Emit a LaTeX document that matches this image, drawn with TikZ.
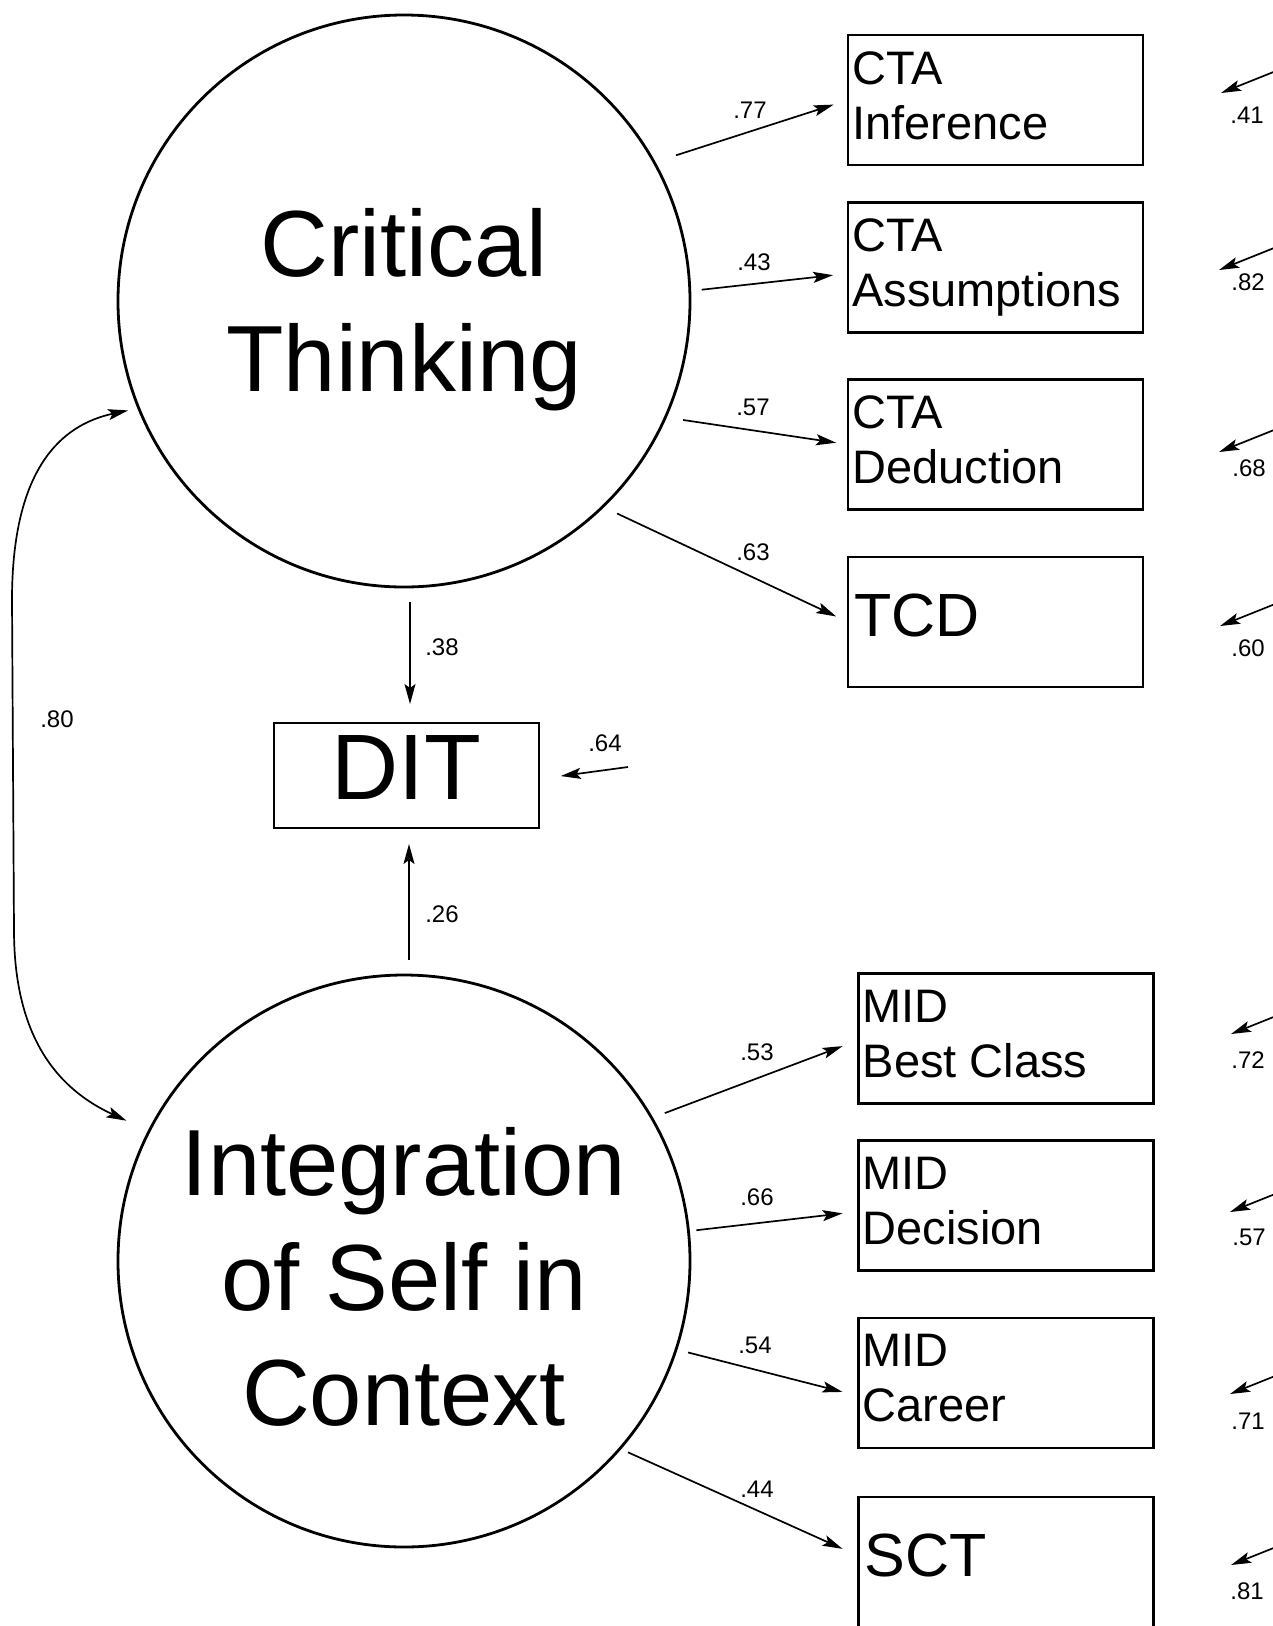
\documentclass[tikz,border=0pt]{standalone}
\usepackage{fontspec}
\setmainfont{Liberation Sans}
\usetikzlibrary{arrows.meta}
\newcommand{\sizeL}{\fontsize{61}{70}\selectfont}
\newcommand{\ind}[3]{\node[indic] (#1) at (#2) {};
 	\node[indtext] (#1txt) at ([shift={(4,16)}]#1.north west) {#3}}
\newcommand{\load}[4]{\draw[effect, shorten <=#3pt, shorten >=#4pt] (#1) -- (#2)}
\newcommand{\coef}[3]{\node[coef] (#1) at (#2) {#3}}
\newcommand{\err}[4]{\coordinate (#1) at (#2);
 	\draw[effect] (#1) --++ (-60,24);
 	\node[coef] (#1lab) at (#3) {#4}}
\tikzset{
	latent/.style = {circle, draw, line width=2.8pt, minimum size=572pt, inner sep=0pt, outer sep=0pt},
	bigtext/.style = {align=center, inner sep=0pt, anchor=north, font=\fontsize{94}{115}\selectfont},
	indic/.style = {draw, line width=2.8pt, minimum width=295pt, minimum height=130pt, inner sep=0pt, outer sep=0pt},
	indtext/.style = {align=left, inner sep=0pt, anchor=north west, font=\fontsize{47}{55}\selectfont},
	effect/.style = {line width=1.7pt, ->},
	coef/.style = {inner sep=0pt, font=\fontsize{24}{28}\selectfont}
}

\begin{document}
\begin{tikzpicture}[x=1pt, y=-1pt, >={Stealth[length=20pt, width=11pt, inset=4pt]}]
\useasboundingbox (0,0) rectangle (1273,1626);
%Latent variables
	\node[latent] (ct) at (404,301) {};
	\node[bigtext] (cttxt) at (404,208) {Critical\\Thinking};
	\node[latent] (is) at (404,1261) {};
	\node[bigtext] (istxt) at (404,1127) {Integration\\of Self in\\Context};
%The outcome
	\node[draw, line width=2.8pt, minimum width=265pt, minimum height=105pt, inner sep=0pt, outer sep=0pt,
		text depth=15.6pt, font=\fontsize{93}{100}\selectfont] (dit) at (406.5,775.5) {DIT};
%Indicators of critical thinking
	\ind{inf}{995.5,100}{CTA\\Inference};
	\ind{ass}{995.5,267.5}{CTA\\Assumptions};
	\ind{ded}{995.5,444.5}{CTA\\Deduction};
	\node[indic] (tcd) at (995.5,622) {};
	\node[indtext, font=\sizeL] (tcdtxt) at ([shift={(6,37)}]tcd.north west) {TCD};
%Indicators of integration
	\ind{bc}{1006,1038.5}{MID\\Best Class};
	\ind{dec}{1006,1205.5}{MID\\Decision};
	\ind{car}{1006,1383}{MID\\Career};
	\node[indic] (sct) at (1006,1562) {};
	\node[indtext, font=\sizeL] (scttxt) at ([shift={(6,37)}]sct.north west) {SCT};
%Loadings
	\load{ct.29.5}{inf.west}{23}{15};
	\load{ct.2.6}{[yshift=-6pt]ass.west}{12}{15};
	\load{ct.336.9}{ded.west}{18}{12};
	\load{ct.314.1}{tcd.west}{16}{13};
	\load{is.30.4}{[yshift=-1.6pt]bc.west}{14}{17};
	\load{is.6.6}{[yshift=-6pt]dec.west}{8}{16};
	\load{is.342}{[yshift=-13pt]car.west}{12.5}{16.5};
	\load{is.319}{[yshift=6pt]sct.west}{9}{17.5};
	\coef{c77}{750,110}{.77};
	\coef{c43}{754,262}{.43};
	\coef{c57}{753,407}{.57};
	\coef{c63}{753,552}{.63};
	\coef{c53}{757,1052}{.53};
	\coef{c66}{757,1197}{.66};
	\coef{c54}{755,1345}{.54};
	\coef{c44}{757,1489}{.44};
%Paths to DIT
	\draw[effect, shorten <=15pt, shorten >=19pt] ([xshift=6pt]ct.south) -- ([xshift=3.5pt]dit.north);
	\draw[effect, shorten <=15pt, shorten >=16pt] ([xshift=5pt]is.north) -- ([xshift=2.5pt]dit.south);
	\coef{c38}{442,647}{.38};
	\coef{c26}{442,914}{.26};
	\coordinate (e64) at (628,767);
	\draw[effect, shorten >=22pt] (e64) -- ([yshift=-3.5pt]dit.east);
	\coef{c64}{605,743}{.64};
%Correlation
	\draw[line width=1.7pt, <->, shorten <=11pt, shorten >=25pt] (ct.202.6)
		.. controls (60,425) and (12,470) .. (12,600) -- (14,930)
		.. controls (14,1040) and (60,1090) .. (is.153);
	\coef{c80}{57,719}{.80};
%Residuals
	\err{e41}{1281,69}{1247,115}{.41};
	\err{e82}{1279,246}{1248,282}{.82};
	\err{e68}{1279,428}{1249,468}{.68};
	\err{e60}{1280,602}{1248,648}{.60};
	\err{e72}{1291,1010}{1248,1060}{.72};
	\err{e57}{1290,1188}{1249,1237}{.57};
	\err{e71}{1290,1370}{1248,1421}{.71};
	\err{e81}{1291,1541}{1247,1591}{.81};
\end{tikzpicture}
\end{document}
